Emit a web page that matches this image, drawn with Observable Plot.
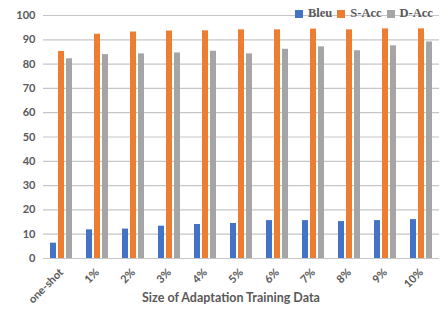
<!DOCTYPE html>
<html><head><meta charset="utf-8">
<script src="https://cdn.jsdelivr.net/npm/d3@7"></script>
<script src="https://cdn.jsdelivr.net/npm/@observablehq/plot@0.6"></script>
<style>
body{margin:0;background:#fff;}
#wrap{position:relative;width:448px;height:309px;}
#legend{position:absolute;top:6px;left:295px;font:bold 12.5px "Liberation Serif",serif;color:#595959;display:flex;align-items:center;white-space:nowrap;}
#legend span.sw{display:inline-block;width:8px;height:8px;margin-right:5px;}
#legend span.lb{margin-right:5px;}
</style>
</head><body>
<div id="wrap"><div id="legend"></div></div>
<script>
const categories = ["one-shot","1%","2%","3%","4%","5%","6%","7%","8%","9%","10%"];
const series = ["Bleu","S-Acc","D-Acc"];
const colors = ["#4472C4","#ED7D31","#A5A5A5"];
const bleu = [6.3,11.8,12.1,13.3,14.0,14.4,15.6,15.6,15.2,15.6,16.0];
const sAcc = [85.2,92.3,93.2,93.6,93.7,94.1,94.1,94.4,94.1,94.5,94.5];
const dAcc = [82.2,83.9,84.2,84.6,85.3,84.2,86.1,87.1,85.5,87.5,89.1];
const yTicks = [0,10,20,30,40,50,60,70,80,90,100];
const xTitle = "Size of Adaptation Training Data";

const values = [bleu, sAcc, dAcc];
const data = [];
categories.forEach((c,i)=>series.forEach((s,j)=>data.push({cat:c, series:s, value:values[j][i]})));

const chart = Plot.plot({
  width: 448, height: 309,
  marginLeft: 38, marginRight: 5, marginTop: 15, marginBottom: 51,
  style: {fontFamily: "Lato, sans-serif", fontWeight: "bold", fontSize: "11px", color: "#595959"},
  fx: {domain: categories, padding: 0, label: null},
  x: {domain: series, axis: null, paddingInner: 0.21, paddingOuter: 0.85},
  y: {domain: [0,100], ticks: yTicks, tickSize: 0, tickPadding: 8, label: null, tickFormat: d=>d},
  color: {domain: series, range: colors},
  marks: [
    Plot.ruleY(yTicks, {stroke: "#c6c6c6", strokeWidth: 1.2}),
    Plot.barY(data, {fx: "cat", x: "series", y: "value", fill: "series"}),
    Plot.axisFx({anchor: "bottom", tickRotate: -45, tickSize: 0, tickPadding: 12, label: null, fontSize: 11, textAnchor: "end", dx: 0})
  ]
});
document.getElementById("wrap").prepend(chart);

// axis title
const svg = d3.select(chart);
svg.append("text").attr("x", 231).attr("y", 302).attr("text-anchor","middle")
  .attr("fill","#595959").style("font","bold 12.5px Lato, sans-serif").text(xTitle);

const lg = document.getElementById("legend");
series.forEach((s,i)=>{
  const sw=document.createElement("span"); sw.className="sw"; sw.style.background=colors[i];
  const lb=document.createElement("span"); lb.className="lb"; lb.textContent=s;
  lg.append(sw, lb);
});
</script>
</body></html>
